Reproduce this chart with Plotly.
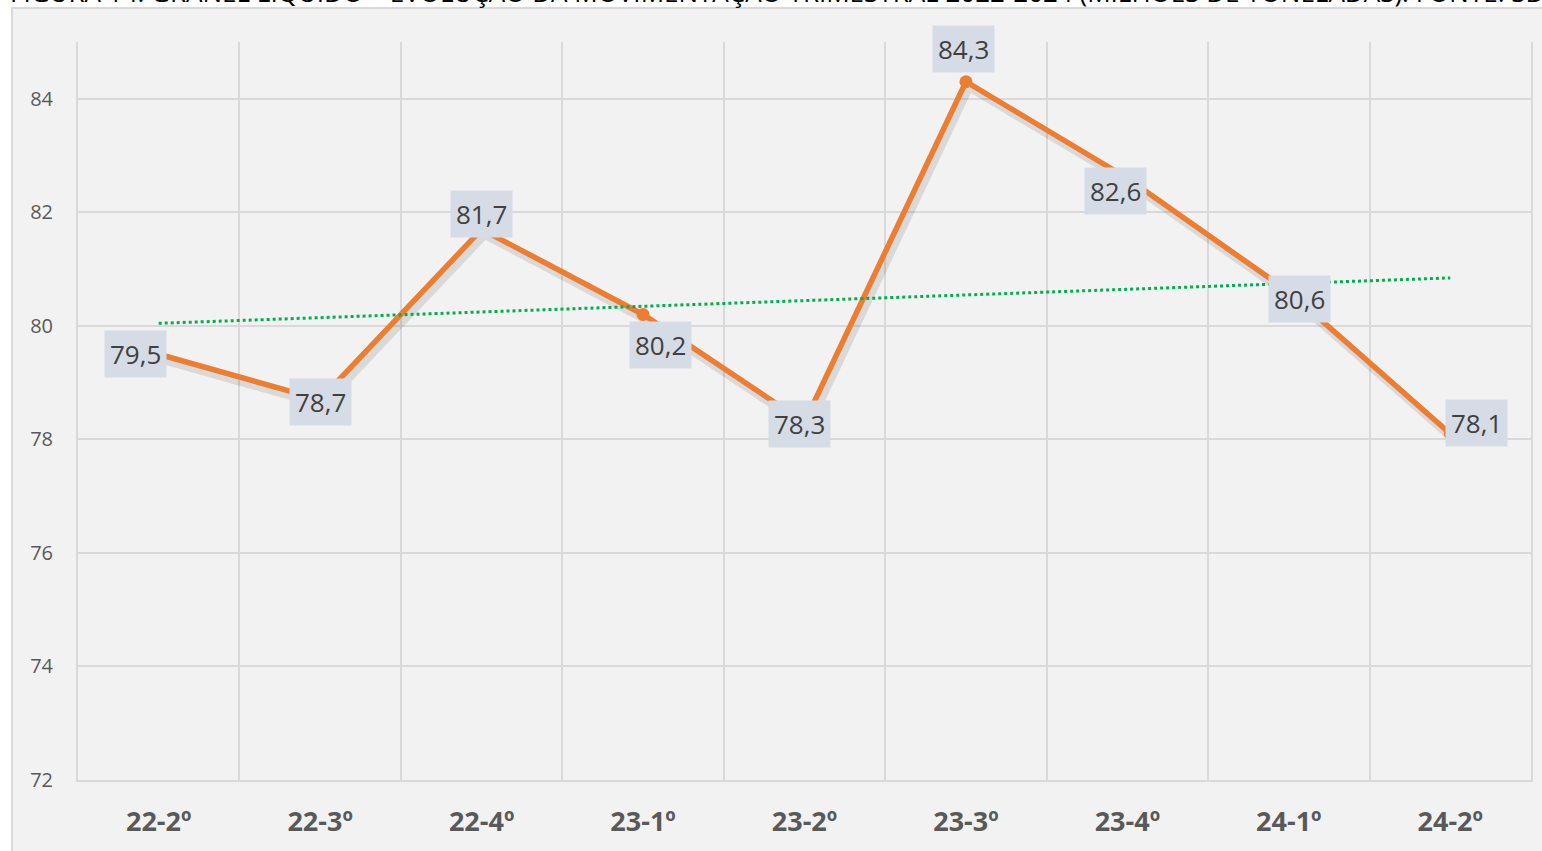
import numpy as np
import plotly.graph_objects as go

# ---- data ----
categories = ["22-2º", "22-3º", "22-4º", "23-1º", "23-2º", "23-3º", "23-4º", "24-1º", "24-2º"]
values = [79.5, 78.7, 81.7, 80.2, 78.3, 84.3, 82.6, 80.6, 78.1]
labels = ["79,5", "78,7", "81,7", "80,2", "78,3", "84,3", "82,6", "80,6", "78,1"]
y_ticks = [72, 74, 76, 78, 80, 82, 84]
title_text = ("FIGURA 14: GRANEL LÍQUIDO – EVOLUÇÃO DA MOVIMENTAÇÃO TRIMESTRAL 2022-2024 "
              "(MILHÕES DE TONELADAS). FONTE: SDP")

# label offsets (pixels) relative to each point
label_dx = [-23, 0, 0, 17, -5, -2, -12, 11, 26]
label_dy = [0, -2, 15, -31, -2, 33, -13, -7, 11]

x = np.arange(len(categories))
slope, intercept = np.polyfit(x, values, 1)
trend_x = np.array([x[0], x[-1]])
trend_y = slope * trend_x + intercept

W, H = 1542, 851
ml, mr, mt, mb = 78, 11, 42, 71
pw, ph = W - ml - mr, H - mt - mb
xr = [-0.5, len(categories) - 0.5]
yr = [72, 85]
ux = pw / (xr[1] - xr[0])
uy = ph / (yr[1] - yr[0])
sh_dx, sh_dy = 3, 5  # shadow offset px

grid = "#d9d9d9"
fig = go.Figure()

# base subplot (axes/grid only)
fig.add_trace(go.Scatter(x=[], y=[], mode="lines", hoverinfo="skip", showlegend=False))
# shadow (on shifted overlay axes)
fig.add_trace(go.Scatter(x=x, y=values, mode="lines", xaxis="x2", yaxis="y2",
                         line=dict(color="rgba(0,0,0,0.10)", width=9),
                         hoverinfo="skip", showlegend=False))
# main line
fig.add_trace(go.Scatter(x=x, y=values, mode="lines+markers", xaxis="x3", yaxis="y3",
                         line=dict(color="#ED7D31", width=5.5),
                         marker=dict(color="#ED7D31", size=13),
                         showlegend=False))
# trend line
fig.add_trace(go.Scatter(x=trend_x, y=trend_y, mode="lines", xaxis="x3", yaxis="y3",
                         line=dict(color="#00B050", width=3, dash="dot"),
                         showlegend=False))

annotations = []
for xi, v, t, dx, dy in zip(x, values, labels, label_dx, label_dy):
    annotations.append(dict(x=xi, y=v, xref="x3", yref="y3", text=t, showarrow=False,
                            xshift=dx, yshift=dy, bgcolor="#D6DCE5", borderpad=5,
                            font=dict(family="Open Sans", size=26, color="#404040")))
annotations.append(dict(x=(8 - ml) / pw, y=(ph + mt + 8) / ph, xref="paper", yref="paper",
                        text=title_text, showarrow=False, xanchor="left", yanchor="middle",
                        font=dict(family="Open Sans", size=26, color="#000000")))

fig.update_layout(
    width=W, height=H,
    margin=dict(l=ml, r=mr, t=mt, b=mb, autoexpand=False),
    paper_bgcolor="#ffffff",
    plot_bgcolor="#F2F2F2",
    font=dict(family="Open Sans"),
    xaxis=dict(range=xr, tickmode="array", tickvals=list(x), ticktext=categories,
               showgrid=False, zeroline=False, showline=True, linecolor=grid, linewidth=2,
               ticks="", ticklabelstandoff=17,
               tickfont=dict(family="Open Sans", size=27, color="#595959", weight="bold"),
               minor=dict(tickmode="array", tickvals=[v - 0.5 for v in range(len(categories) + 1)],
                          showgrid=True, gridcolor=grid, gridwidth=2, ticks="")),
    yaxis=dict(range=yr, tickmode="array", tickvals=y_ticks, showgrid=True, gridcolor=grid,
               gridwidth=2, zeroline=False, showline=True, linecolor=grid, linewidth=2,
               mirror=True, ticks="", ticklabelstandoff=19,
               tickfont=dict(family="Open Sans", size=20, color="#595959")),
    xaxis2=dict(range=[xr[0] - sh_dx / ux, xr[1] - sh_dx / ux], overlaying="x", visible=False),
    yaxis2=dict(range=[yr[0] + sh_dy / uy, yr[1] + sh_dy / uy], overlaying="y", visible=False),
    xaxis3=dict(range=xr, overlaying="x", visible=False),
    yaxis3=dict(range=yr, overlaying="y", visible=False),
    annotations=annotations,
    shapes=[dict(type="rect", xref="paper", yref="paper", layer="below",
                 x0=(12 - ml) / pw, x1=(W + 5 - ml) / pw,
                 y0=(ph + mt - H - 5) / ph, y1=(ph + mt - 8) / ph,
                 fillcolor="#F2F2F2", line=dict(color=grid, width=2))],
)

fig.write_html("out.html", config={"displayModeBar": False},
               post_script="document.body.style.margin='0';document.body.style.overflow='hidden';")
